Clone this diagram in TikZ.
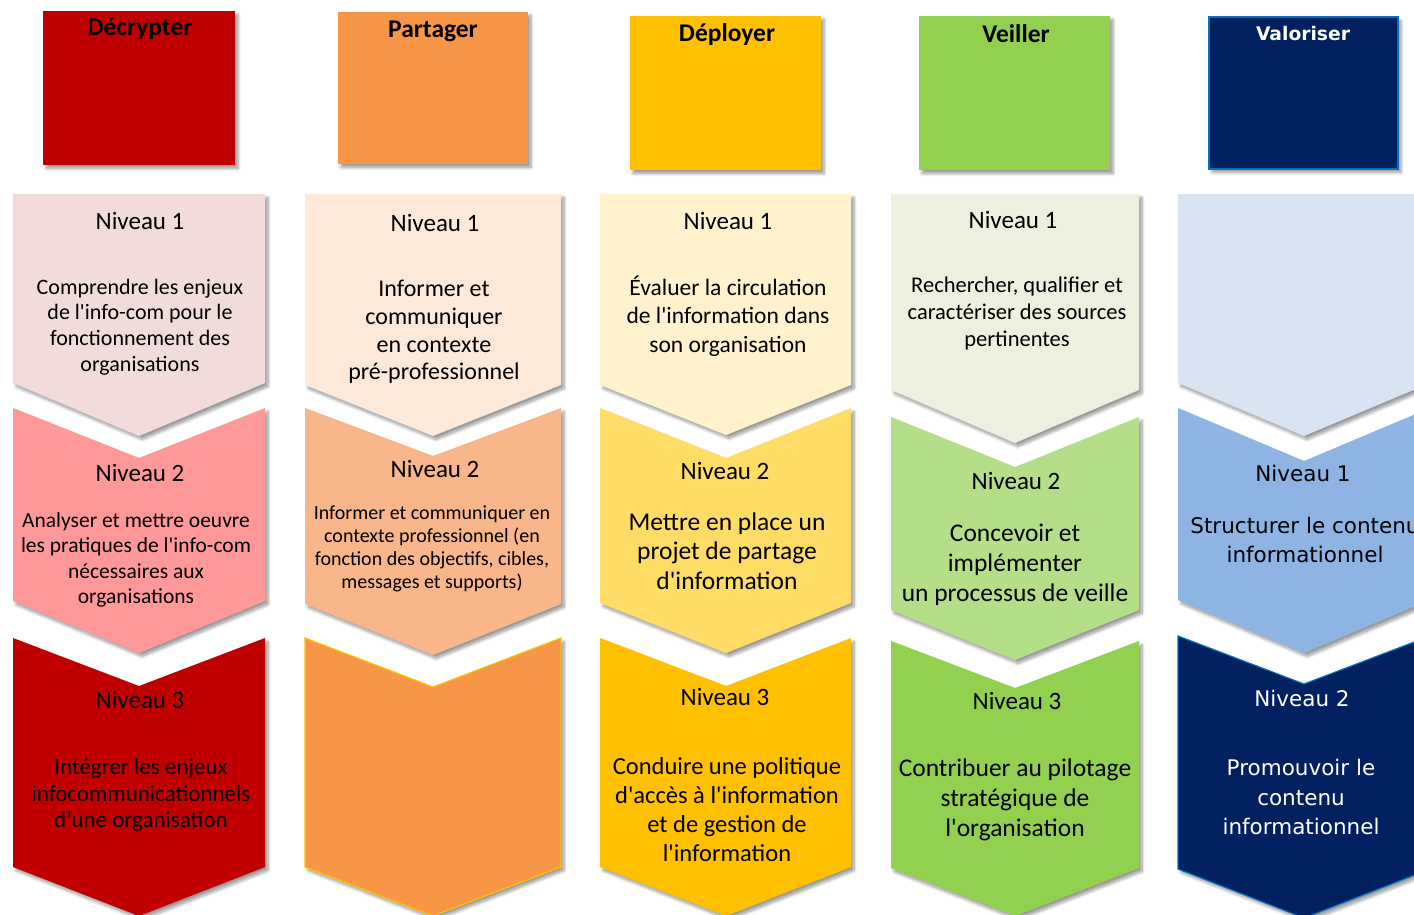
\documentclass[tikz,border=0pt]{standalone}
\usepackage{fontspec}
\setmainfont{Carlito}[Ligatures=TeXOff]
\newfontfamily\verdfont{DejaVu Sans}[Ligatures=TeXOff]
\usetikzlibrary{shadows.blur}

\definecolor{decrouge}{HTML}{C00000}
\definecolor{decrose}{HTML}{F2DCDB}
\definecolor{decsaumon}{HTML}{FF9999}
\definecolor{parorange}{HTML}{F79646}
\definecolor{parpeche}{HTML}{FDE9D9}
\definecolor{parabricot}{HTML}{F8B68A}
\definecolor{depjaune}{HTML}{FFC000}
\definecolor{depcreme}{HTML}{FFF2CC}
\definecolor{depor}{HTML}{FFDC66}
\definecolor{veivert}{HTML}{92D050}
\definecolor{veipale}{HTML}{EBF1DE}
\definecolor{veitendre}{HTML}{B5DE88}
\definecolor{valnuit}{HTML}{002060}
\definecolor{valciel}{HTML}{D9E4F3}
\definecolor{valbleu}{HTML}{8EB4E3}
\definecolor{valbord}{HTML}{0070C0}

\tikzset{
	ombre/.style={blur shadow={shadow xshift=3pt, shadow yshift=-3.5pt,
			shadow blur steps=8, shadow blur radius=3pt, shadow opacity=40}},
	tete/.style={font=\fontsize{25.5}{30}\selectfont\bfseries, inner sep=0pt},
	niveau/.style={font=\fontsize{25}{30}\selectfont, inner sep=0pt},
	texte/.style={align=center, inner sep=0pt},
	vtexte/.style={align=center, inner sep=0pt, font=\verdfont\fontsize{21.5}{29}\selectfont},
}

\begin{document}
\begin{tikzpicture}[x=1pt, y=-1pt]
	\useasboundingbox (0,0) rectangle (1414,914);
	
	% titres des colonnes
	\fill[decrouge, ombre] (43,11) rectangle (235,165);
	\node[tete] (t-dec) at (140,29) {Décrypter};
	\fill[parorange, ombre] (338,12) rectangle (528,164);
	\node[tete] (t-par) at (433,31) {Partager};
	\fill[depjaune, ombre] (630,16) rectangle (821,170);
	\node[tete] (t-dep) at (727,35) {Déployer};
	\fill[veivert, ombre] (919,16) rectangle (1110,170);
	\node[tete] (t-vei) at (1016,34) {Veiller};
	\filldraw[fill=valnuit, draw=valbord, line width=1.5pt, ombre] (1209,17) rectangle (1398,169);
	\node[tete, font=\verdfont\fontsize{18.7}{22}\selectfont\bfseries, text=white]
	(t-val) at (1303,34) {Valoriser};
	
	% Décrypter
	\fill[decrose, ombre] (13,194) -- (265,194) -- (265,383) -- (139,436) -- (13,383) -- cycle;
	\fill[decsaumon, ombre] (13,408) -- (139,458) -- (265,408) -- (265,601) -- (139,653) -- (13,601) -- cycle;
	\fill[decrouge, ombre] (13,638) -- (139,686) -- (265,638) -- (265,867) -- (139,916) -- (13,867) -- cycle;
	\node[niveau] (dec-n1) at (140,221) {Niveau 1};
	\node[texte, font=\fontsize{22}{25.7}\selectfont] (dec-t1) at (140,327)
	{Comprendre les enjeux\\de l'info-com pour le\\fonctionnement des\\organisations};
	\node[niveau] (dec-n2) at (140,473) {Niveau 2};
	\node[texte, font=\fontsize{21.5}{25.3}\selectfont] (dec-t2) at (136,560)
	{Analyser et mettre oeuvre\\les pratiques de l'info-com\\nécessaires aux\\organisations};
	\node[niveau] (dec-n3) at (140,700) {Niveau 3};
	\node[texte, font=\fontsize{23}{26.5}\selectfont] (dec-t3) at (141,795)
	{Intégrer les enjeux\\infocommunicationnels\\d’une organisation};
	
	% Partager
	\fill[parpeche, ombre] (305,194) -- (561,194) -- (561,385) -- (433,436) -- (305,385) -- cycle;
	\fill[parabricot, ombre] (305,408) -- (433,456) -- (561,408) -- (561,604) -- (433,655) -- (305,604) -- cycle;
	\filldraw[fill=parorange, draw=depjaune, line width=1.2pt, ombre]
	(305,638) -- (433,687) -- (561,638) -- (561,867) -- (433,916) -- (305,867) -- cycle;
	\node[niveau] (par-n1) at (435,223) {Niveau 1};
	\node[texte, font=\fontsize{24}{27.7}\selectfont] (par-t1) at (434,332)
	{Informer et\\communiquer\\en contexte\\pré-professionnel};
	\node[niveau] (par-n2) at (435,469) {Niveau 2};
	\node[texte, font=\fontsize{20}{23}\selectfont] (par-t2) at (432,549)
	{Informer et communiquer en\\contexte professionnel (en\\fonction des objectifs, cibles,\\messages et supports)};
	
	% Déployer
	\fill[depcreme, ombre] (600,194) -- (851,194) -- (851,385) -- (726,435) -- (600,385) -- cycle;
	\fill[depor, ombre] (600,408) -- (726,458) -- (851,408) -- (851,603) -- (726,653) -- (600,603) -- cycle;
	\fill[depjaune, ombre] (600,638) -- (726,686) -- (851,638) -- (851,867) -- (726,916) -- (600,867) -- cycle;
	\node[niveau] (dep-n1) at (728,221) {Niveau 1};
	\node[texte, font=\fontsize{23.5}{28.5}\selectfont] (dep-t1) at (728,316)
	{Évaluer la circulation\\de l'information dans\\son organisation};
	\node[niveau] (dep-n2) at (725,471) {Niveau 2};
	\node[texte, font=\fontsize{25.5}{29.5}\selectfont] (dep-t2) at (727,551)
	{Mettre en place un\\projet de partage\\d'information};
	\node[niveau] (dep-n3) at (725,697) {Niveau 3};
	\node[texte, font=\fontsize{24.5}{29}\selectfont] (dep-t3) at (727,810)
	{Conduire une politique\\d'accès à l'information\\et de gestion de\\l'information};
	
	% Veiller
	\fill[veipale, ombre] (891,194) -- (1139,194) -- (1139,390) -- (1015,443) -- (891,390) -- cycle;
	\fill[veitendre, ombre] (891,417) -- (1015,467) -- (1139,417) -- (1139,610) -- (1015,660) -- (891,610) -- cycle;
	\fill[veivert, ombre] (891,641) -- (1015,688) -- (1139,641) -- (1139,868) -- (1015,916) -- (891,868) -- cycle;
	\node[niveau] (vei-n1) at (1013,220) {Niveau 1};
	\node[texte, font=\fontsize{22.5}{27}\selectfont] (vei-t1) at (1017,313)
	{Rechercher, qualifier et\\caractériser des sources\\pertinentes};
	\node[niveau] (vei-n2) at (1016,481) {Niveau 2};
	\node[texte, font=\fontsize{25.5}{30}\selectfont] (vei-t2) at (1015,565)
	{Concevoir et\\implémenter\\un processus de veille};
	\node[niveau] (vei-n3) at (1017,701) {Niveau 3};
	\node[texte, font=\fontsize{25.5}{30}\selectfont] (vei-t3) at (1015,800)
	{Contribuer au pilotage\\stratégique de\\l'organisation};
	
	% Valoriser
	\fill[valciel, ombre] (1178,194) -- (1430,194) -- (1430,383) -- (1304,436) -- (1178,383) -- cycle;
	\fill[valbleu, ombre] (1178,408) -- (1304,461) -- (1430,408) -- (1430,600) -- (1304,653) -- (1178,600) -- cycle;
	\filldraw[fill=valnuit, draw=valbord, line width=1.2pt, ombre]
	(1178,636) -- (1304,684) -- (1430,636) -- (1430,869) -- (1304,918) -- (1178,869) -- cycle;
	\node[vtexte] (val-n1) at (1303,473) {Niveau 1};
	\node[vtexte] (val-t1) at (1305,540) {Structurer le contenu\\informationnel};
	\node[vtexte, text=white] (val-n2) at (1302,698) {Niveau 2};
	\node[vtexte, text=white, font=\verdfont\fontsize{21.5}{29.5}\selectfont] (val-t2) at (1301,797)
	{Promouvoir le\\contenu\\informationnel};
\end{tikzpicture}
\end{document}
